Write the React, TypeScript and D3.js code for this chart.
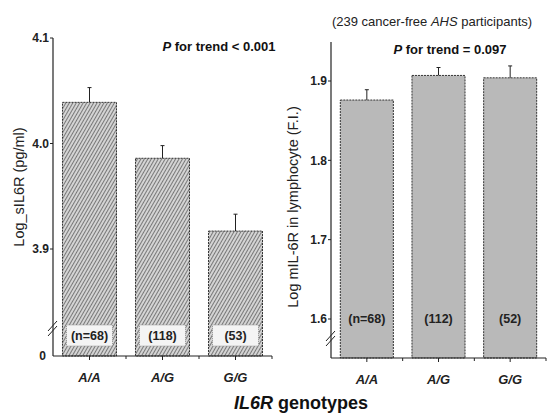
import React, { useEffect, useRef } from 'react';
import * as d3 from 'd3';

const genotypes = ['A/A', 'A/G', 'G/G'];
const solubleMeans = [4.039, 3.986, 3.917];
const solubleErrors = [0.014, 0.012, 0.016];
const solubleCounts = ['(n=68)', '(118)', '(53)'];
const solubleTicks = [3.9, 4.0, 4.1];

const membraneMeans = [1.876, 1.907, 1.904];
const membraneErrors = [0.013, 0.010, 0.015];
const membraneCounts = ['(n=68)', '(112)', '(52)'];
const membraneTicks = [1.6, 1.7, 1.8, 1.9];

const FONT = 'Liberation Sans, Arial, sans-serif';

const App = () => {
    const svgRef = useRef(null);

    useEffect(() => {
        const svg = d3.select(svgRef.current);
        svg.selectAll('*').remove();

        const defs = svg.append('defs');
        const hatch = defs.append('pattern')
            .attr('id', 'hatch')
            .attr('patternUnits', 'userSpaceOnUse')
            .attr('width', 3)
            .attr('height', 3)
            .attr('patternTransform', 'rotate(30)');
        hatch.append('rect').attr('width', 3).attr('height', 3).attr('fill', '#d4d4d4');
        hatch.append('line')
            .attr('x1', 0).attr('y1', 0).attr('x2', 0).attr('y2', 3)
            .attr('stroke', '#3a3a3a').attr('stroke-width', 1.2);

        const drawPanel = (opts) => {
            const { x0, x1, top, bottom, yScale, ticks, tickFmt, means, errors, counts,
                fill, breakY, countY, countBox, yLabel, yLabelX, yLabelY, trendX, trendY, trendText } = opts;
            const g = svg.append('g');

            const xScale = d3.scaleBand()
                .domain(genotypes)
                .range([x0, x1])
                .paddingInner(0.26)
                .paddingOuter(0.13);

            // bars
            g.selectAll('rect.bar')
                .data(means)
                .enter()
                .append('rect')
                .attr('x', (d, i) => xScale(genotypes[i]))
                .attr('y', d => yScale(d))
                .attr('width', xScale.bandwidth())
                .attr('height', d => bottom - yScale(d))
                .attr('fill', fill)
                .attr('stroke', '#333')
                .attr('stroke-width', 1)
                .attr('stroke-dasharray', '2,1');

            // error bars
            g.selectAll('line.err')
                .data(means)
                .enter()
                .append('line')
                .attr('x1', (d, i) => xScale(genotypes[i]) + xScale.bandwidth() / 2)
                .attr('x2', (d, i) => xScale(genotypes[i]) + xScale.bandwidth() / 2)
                .attr('y1', d => yScale(d))
                .attr('y2', (d, i) => yScale(d + errors[i]))
                .attr('stroke', '#222')
                .attr('stroke-width', 1);
            g.selectAll('line.cap')
                .data(means)
                .enter()
                .append('line')
                .attr('x1', (d, i) => xScale(genotypes[i]) + xScale.bandwidth() / 2 - 2)
                .attr('x2', (d, i) => xScale(genotypes[i]) + xScale.bandwidth() / 2 + 2)
                .attr('y1', (d, i) => yScale(d + errors[i]))
                .attr('y2', (d, i) => yScale(d + errors[i]))
                .attr('stroke', '#222')
                .attr('stroke-width', 1);

            // count labels
            counts.forEach((c, i) => {
                const cx = xScale(genotypes[i]) + xScale.bandwidth() / 2;
                if (countBox) {
                    g.append('rect')
                        .attr('x', xScale(genotypes[i]) + 4)
                        .attr('y', countY - 11)
                        .attr('width', xScale.bandwidth() - 8)
                        .attr('height', 21)
                        .attr('fill', '#f4f4f4')
                        .attr('stroke', '#999')
                        .attr('stroke-dasharray', '1,1');
                }
                g.append('text')
                    .attr('x', cx)
                    .attr('y', countY)
                    .attr('dy', '0.35em')
                    .attr('text-anchor', 'middle')
                    .attr('font-family', FONT)
                    .attr('font-weight', 'bold')
                    .attr('font-size', 12.5)
                    .attr('fill', '#222')
                    .text(c);
            });

            // y axis
            g.append('line')
                .attr('x1', x0).attr('x2', x0)
                .attr('y1', top).attr('y2', bottom)
                .attr('stroke', '#222').attr('stroke-width', 1.2);
            g.selectAll('line.ytick')
                .data(ticks)
                .enter()
                .append('line')
                .attr('x1', x0 - 3).attr('x2', x0)
                .attr('y1', d => yScale(d)).attr('y2', d => yScale(d))
                .attr('stroke', '#222');
            g.selectAll('text.ytick')
                .data(ticks)
                .enter()
                .append('text')
                .attr('x', x0 - 4)
                .attr('y', d => yScale(d))
                .attr('dy', '0.35em')
                .attr('text-anchor', 'end')
                .attr('font-family', FONT)
                .attr('font-weight', 'bold')
                .attr('font-size', 12)
                .attr('fill', '#222')
                .text(tickFmt);

            // axis break marks
            [0, 5].forEach(off => {
                g.append('line')
                    .attr('x1', x0 - 5).attr('x2', x0 + 4)
                    .attr('y1', breakY + 5 + off).attr('y2', breakY - 5 + off)
                    .attr('stroke', '#222').attr('stroke-width', 1);
            });

            // x axis
            g.append('line')
                .attr('x1', x0).attr('x2', x1)
                .attr('y1', bottom).attr('y2', bottom)
                .attr('stroke', '#222').attr('stroke-width', 1.2);
            genotypes.forEach((gt, i) => {
                const cx = xScale(gt) + xScale.bandwidth() / 2;
                g.append('line')
                    .attr('x1', cx).attr('x2', cx)
                    .attr('y1', bottom).attr('y2', bottom + 4)
                    .attr('stroke', '#222');
                if (i > 0) {
                    const mx = (xScale(genotypes[i - 1]) + xScale.bandwidth() + xScale(gt)) / 2;
                    g.append('line')
                        .attr('x1', mx).attr('x2', mx)
                        .attr('y1', bottom).attr('y2', bottom + 3)
                        .attr('stroke', '#222');
                }
                g.append('text')
                    .attr('x', cx)
                    .attr('y', bottom + 26)
                    .attr('text-anchor', 'middle')
                    .attr('font-family', FONT)
                    .attr('font-weight', 'bold')
                    .attr('font-style', 'italic')
                    .attr('font-size', 13)
                    .attr('fill', '#222')
                    .text(gt);
            });
            g.append('line')
                .attr('x1', x1).attr('x2', x1)
                .attr('y1', bottom).attr('y2', bottom + 3)
                .attr('stroke', '#222');

            // y label
            g.append('text')
                .attr('transform', `translate(${yLabelX}, ${yLabelY}) rotate(-90)`)
                .attr('text-anchor', 'middle')
                .attr('font-family', FONT)
                .attr('font-size', 14.5)
                .attr('fill', '#222')
                .text(yLabel);

            // trend text
            const t = g.append('text')
                .attr('x', trendX)
                .attr('y', trendY)
                .attr('text-anchor', 'middle')
                .attr('font-family', FONT)
                .attr('font-weight', 'bold')
                .attr('font-size', 13)
                .attr('fill', '#111');
            t.append('tspan').attr('font-style', 'italic').text('P');
            t.append('tspan').text(trendText);
        };

        drawPanel({
            x0: 53, x1: 272, top: 38, bottom: 356,
            yScale: d3.scaleLinear().domain([3.9, 4.1]).range([249, 38]),
            ticks: solubleTicks,
            tickFmt: d => d.toFixed(1),
            means: solubleMeans, errors: solubleErrors, counts: solubleCounts,
            fill: 'url(#hatch)', breakY: 326, countY: 336, countBox: true,
            yLabel: 'Log_sIL6R (pg/ml)', yLabelX: 24, yLabelY: 187,
            trendX: 219, trendY: 51, trendText: ' for trend < 0.001'
        });

        drawPanel({
            x0: 331, x1: 546, top: 42, bottom: 358,
            yScale: d3.scaleLinear().domain([1.6, 1.9]).range([319, 81]),
            ticks: membraneTicks,
            tickFmt: d => d.toFixed(1),
            means: membraneMeans, errors: membraneErrors, counts: membraneCounts,
            fill: '#b9b9b9', breakY: 336, countY: 319, countBox: false,
            yLabel: 'Log mIL-6R in lymphocyte (F.I.)', yLabelX: 298, yLabelY: 207,
            trendX: 450, trendY: 54, trendText: ' for trend = 0.097'
        });

        // zero tick on the left panel
        svg.append('text')
            .attr('x', 46).attr('y', 356).attr('dy', '0.35em')
            .attr('text-anchor', 'end')
            .attr('font-family', FONT).attr('font-weight', 'bold').attr('font-size', 12)
            .attr('fill', '#222')
            .text('0');

        // header note
        const note = svg.append('text')
            .attr('x', 432).attr('y', 26)
            .attr('text-anchor', 'middle')
            .attr('font-family', FONT).attr('font-size', 13)
            .attr('fill', '#222');
        note.append('tspan').text('(239 cancer-free ');
        note.append('tspan').attr('font-style', 'italic').text('AHS');
        note.append('tspan').text(' participants)');

        // x axis title
        const xt = svg.append('text')
            .attr('x', 301).attr('y', 409)
            .attr('text-anchor', 'middle')
            .attr('font-family', FONT).attr('font-weight', 'bold').attr('font-size', 18)
            .attr('fill', '#111');
        xt.append('tspan').attr('font-style', 'italic').text('IL6R');
        xt.append('tspan').text(' genotypes');
    }, []);

    return (
        <div style={{ position: 'absolute', left: 0, top: 0, width: 551, height: 413, background: '#fff' }}>
            <svg ref={svgRef} width={551} height={413}></svg>
        </div>
    );
};

export default App;
